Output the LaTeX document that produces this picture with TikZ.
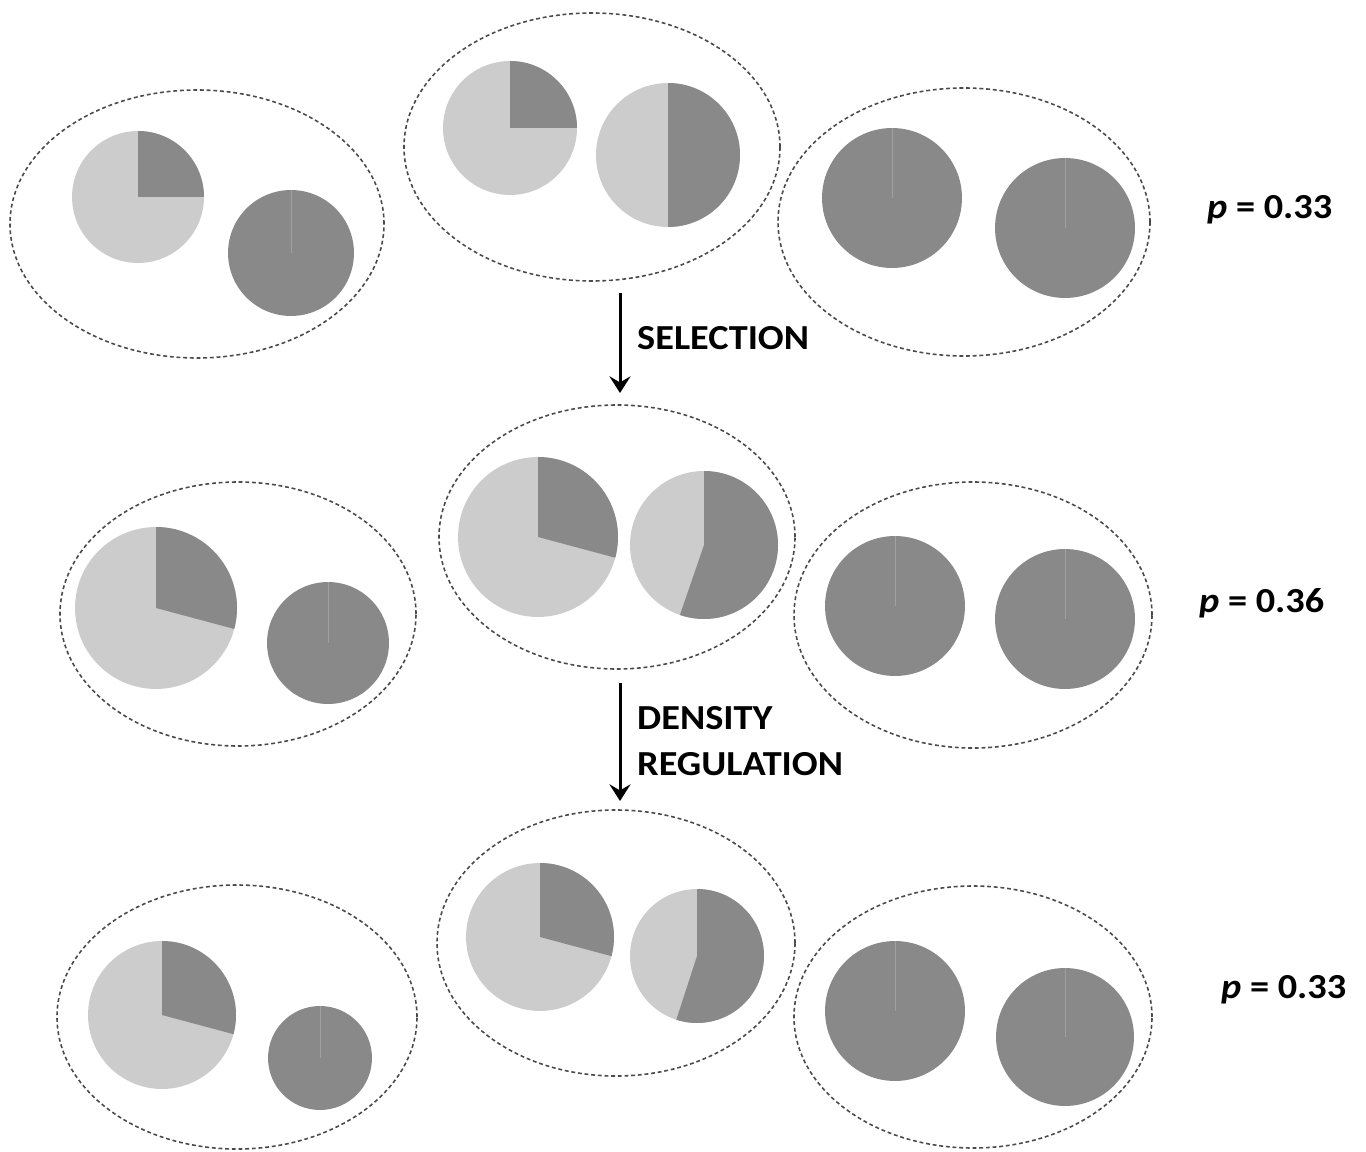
\documentclass[tikz,border=0pt]{standalone}
\usepackage{fontspec}
\setsansfont{Carlito}
\newfontfamily\labelfont[FakeStretch=1.09]{Carlito}
\usetikzlibrary{arrows,arrows.meta,positioning,shapes.geometric}

\definecolor{piedark}{HTML}{898989}
\definecolor{pielight}{HTML}{CCCCCC}
\definecolor{demeline}{HTML}{4A4A4A}

% pie with a dark slice of #5 degrees, clockwise from the top
\newcommand{\piechart}[5]{%
  \node[pie base] (#1) at (#2,#3) [minimum size=#4*0.04cm] {};
  \fill[piedark] (#1.center) -- ++(90:#4) arc (90:90-#5:#4) -- cycle;
}
% pie that is dark all round
\newcommand{\fullpie}[4]{%
  \node[pie base,fill=piedark] (#1) at (#2,#3) [minimum size=#4*0.04cm] {};
  \draw[seam] (#1.center) -- (#1.north);
}

\begin{document}
\begin{tikzpicture}[x=0.02cm,y=0.02cm,>={Stealth[length=9.5pt,width=12pt,inset=3.5pt]},
  deme/.style={ellipse,draw=demeline,line width=0.9pt,dash pattern=on 2.2pt off 1.6pt,inner sep=0pt},
  pie base/.style={circle,fill=pielight,inner sep=0pt},
  seam/.style={draw=piedark!80!white,line width=0.4pt},
  flow/.style={->,line width=1.7pt},
  step text/.style={font=\labelfont\bfseries\fontsize{20}{26.5}\selectfont,anchor=west,align=left},
  freq text/.style={font=\labelfont\bfseries\fontsize{20}{24}\selectfont,anchor=west}]

  \useasboundingbox (0,0) rectangle (1366,-1152);

  % demes
  \node[deme,minimum width=374*0.02cm,minimum height=268*0.02cm] (d1) at (197,-224) {};
  \node[deme,minimum width=376*0.02cm,minimum height=268*0.02cm] (d2) at (592,-147) {};
  \node[deme,minimum width=372*0.02cm,minimum height=268*0.02cm] (d3) at (964,-222) {};
  \node[deme,minimum width=356*0.02cm,minimum height=264*0.02cm] (d4) at (238,-614) {};
  \node[deme,minimum width=356*0.02cm,minimum height=264*0.02cm] (d5) at (617,-537) {};
  \node[deme,minimum width=358*0.02cm,minimum height=266*0.02cm] (d6) at (973,-615) {};
  \node[deme,minimum width=360*0.02cm,minimum height=264*0.02cm] (d7) at (237,-1017) {};
  \node[deme,minimum width=358*0.02cm,minimum height=266*0.02cm] (d8) at (616,-943) {};
  \node[deme,minimum width=358*0.02cm,minimum height=262*0.02cm] (d9) at (973,-1017) {};

  % pies
  \piechart{p1a}{138}{-197}{66}{90}
  \fullpie{p1b}{291}{-253}{63}
  \piechart{p2a}{510}{-128}{67}{90}
  \piechart{p2b}{668}{-155}{72}{180}
  \fullpie{p3a}{892}{-198}{70}
  \fullpie{p3b}{1065}{-228}{70}

  \piechart{p4a}{156}{-608}{81}{105}
  \fullpie{p4b}{328}{-643}{61}
  \piechart{p5a}{538}{-537}{80}{105}
  \piechart{p5b}{704}{-545}{74}{199}
  \fullpie{p6a}{895}{-606}{70}
  \fullpie{p6b}{1065}{-619}{70}

  \piechart{p7a}{162}{-1015}{74}{105}
  \fullpie{p7b}{320}{-1058}{52}
  \piechart{p8a}{540}{-937}{74}{105}
  \piechart{p8b}{697}{-956}{67}{198}
  \fullpie{p9a}{895}{-1011}{70}
  \fullpie{p9b}{1065}{-1037}{69}

  % arrows between the rows
  \coordinate (sel top) at (620,-293);
  \coordinate (sel tip) at (620,-393);
  \coordinate (reg top) at (620,-683);
  \coordinate (reg tip) at (620,-801);
  \draw[flow] (sel top) -- (sel tip);
  \draw[flow] (reg top) -- (reg tip);

  \node[step text] (sel) at (631,-338) {SELECTION};
  \node[step text] (reg) at (631,-741) {DENSITY\\REGULATION};

  \node[freq text] (f1) at (1201,-210) {\textit{p} = 0.33};
  \node[freq text] (f2) at (1193,-603) {\textit{p} = 0.36};
  \node[freq text] (f3) at (1215,-990) {\textit{p} = 0.33};

\end{tikzpicture}
\end{document}
